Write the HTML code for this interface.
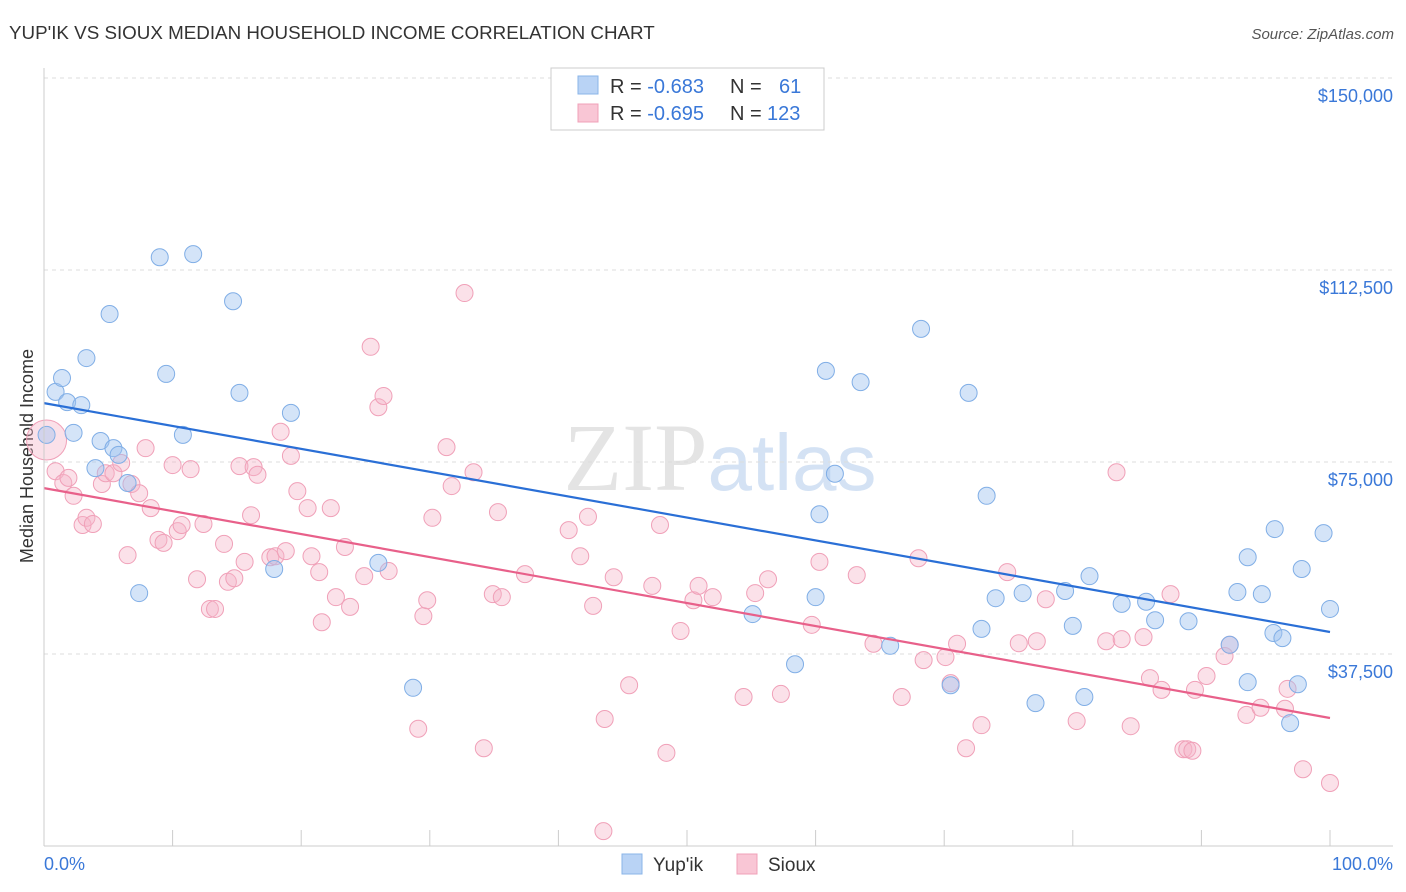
<!DOCTYPE html>
<html><head><meta charset="utf-8"><style>
body{margin:0;background:#fff;font-family:"Liberation Sans",sans-serif;}
svg{display:block}
</style></head><body>
<svg id="chart" width="1406" height="892">
<text x="9" y="39" font-size="18.8" fill="#333">YUP'IK VS SIOUX MEDIAN HOUSEHOLD INCOME CORRELATION CHART</text>
<text x="1394" y="39" font-size="15" fill="#555" font-style="italic" text-anchor="end">Source: ZipAtlas.com</text>
<text x="720" y="490" font-size="96" fill="#e4e4e4" text-anchor="middle" font-family="Liberation Serif, serif">ZIP<tspan fill="#d4e2f4" font-family="Liberation Sans, sans-serif" font-size="80">atlas</tspan></text>
<text transform="translate(33,456) rotate(-90)" font-size="18" fill="#333" text-anchor="middle">Median Household Income</text>
<g id="grid"></g><g id="pts"></g><g id="lines"></g>
<line x1="44" y1="68" x2="44" y2="846" stroke="#ccc"/>
<line x1="44" y1="846" x2="1393" y2="846" stroke="#ccc"/>
<text x="44" y="870" font-size="18" fill="#3a78d8">0.0%</text>
<text x="1393" y="870" font-size="18" fill="#3a78d8" text-anchor="end">100.0%</text>
<g>
<rect x="551" y="68" width="273" height="62" fill="#fff" stroke="#ccc"/>
<rect x="578" y="76" width="20" height="18" fill="#b9d3f5" stroke="#8ab4e8"/>
<rect x="578" y="104" width="20" height="18" fill="#f9c6d5" stroke="#f0a0b8"/>
<text x="610" y="93" font-size="20" fill="#333">R = <tspan fill="#3a78d8">-0.683</tspan><tspan x="730">N =</tspan><tspan x="779" fill="#3a78d8">61</tspan></text>
<text x="610" y="120" font-size="20" fill="#333">R = <tspan fill="#3a78d8">-0.695</tspan><tspan x="730">N =</tspan><tspan x="767" fill="#3a78d8">123</tspan></text>
</g>
<g>
<rect x="622" y="854" width="20" height="20" fill="#b9d3f5" stroke="#8ab4e8"/>
<text x="653" y="871" font-size="19" fill="#333">Yup'ik</text>
<rect x="737" y="854" width="20" height="20" fill="#f9c6d5" stroke="#f0a0b8"/>
<text x="768" y="871" font-size="19" fill="#333">Sioux</text>
</g>
</svg>
<script>
const yTicks=[37.5,75,112.5,150];
const yTickLabels=["$37,500","$75,000","$112,500","$150,000"];
const xTicks=[0,10,20,30,40,50,60,70,80,90,100];
const yupikX=[0.2,0.9,1.4,1.8,2.3,2.9,3.3,4.0,4.4,5.1,5.4,5.8,6.5,7.4,9.0,9.5,10.8,11.6,14.7,15.2,17.9,19.2,26.0,28.7,55.1,58.4,60.0,60.3,60.8,61.5,63.5,65.8,68.2,70.5,71.9,72.9,73.3,74.0,76.1,77.1,79.4,80.0,80.9,81.3,83.8,85.7,86.4,89.0,92.2,92.8,93.6,93.6,94.7,95.6,95.7,96.3,96.9,97.5,97.8,99.5,100];
const yupikY=[80.3,88.7,91.4,86.7,80.7,86.1,95.3,73.8,79.1,103.9,77.7,76.4,70.9,49.4,115.0,92.2,80.3,115.6,106.4,88.5,54.1,84.6,55.3,30.9,45.3,35.5,48.6,64.8,92.8,72.7,90.6,39.1,101.0,31.4,88.5,42.4,68.4,48.4,49.4,27.9,49.8,43.0,29.1,52.7,47.3,47.7,44.1,43.9,39.3,49.6,56.4,32.0,49.2,41.6,61.9,40.6,24.0,31.6,54.1,61.1,46.3];
const siouxX=[0.2,0.9,1.5,1.9,2.3,3.0,3.3,3.8,4.5,4.8,5.4,6.0,6.5,6.8,7.4,7.9,8.3,8.9,9.3,10.0,10.4,10.7,11.4,11.9,12.4,12.9,13.3,14.0,14.3,14.8,15.2,15.6,16.1,16.3,16.6,17.6,18.0,18.4,18.8,19.2,19.7,20.5,20.8,21.4,21.6,22.3,22.7,23.4,23.8,24.9,25.4,26.0,26.4,26.8,29.1,29.5,29.8,30.2,31.3,31.7,32.7,33.4,34.2,34.9,35.3,35.6,37.4,40.8,41.7,42.3,42.7,43.5,43.6,44.3,45.5,47.3,47.9,48.4,49.5,50.5,50.9,52.0,54.4,55.3,56.3,57.3,59.7,60.3,63.2,64.5,66.7,68.0,68.4,70.1,70.5,71.0,71.7,72.9,74.9,75.8,77.2,77.9,80.3,82.6,83.4,83.8,84.5,85.5,86.0,86.9,87.6,88.6,88.9,89.3,89.5,90.4,91.8,92.2,93.5,94.6,96.7,96.5,97.9,100];
const siouxY=[79.3,73.2,70.9,71.9,68.4,62.7,64.1,62.9,70.7,72.8,72.8,74.8,56.8,70.7,68.9,77.7,66.0,59.8,59.2,74.4,61.5,62.7,73.6,52.1,62.9,46.3,46.3,59.0,51.6,52.3,74.2,55.5,64.6,74.0,72.5,56.4,56.6,80.9,57.6,76.2,69.3,66.0,56.6,53.5,43.7,66.0,48.6,58.4,46.7,52.7,97.5,85.7,87.9,53.7,22.9,44.9,48.0,64.1,77.9,70.3,108.0,73.0,19.1,49.2,65.2,48.6,53.1,61.7,56.6,64.3,46.9,2.9,24.8,52.5,31.4,50.8,62.7,18.2,42.0,48.0,50.8,48.6,29.1,49.4,52.1,29.7,43.2,55.5,52.9,39.5,29.1,56.2,36.3,36.9,31.8,39.5,19.1,23.6,53.5,39.6,40.0,48.2,24.4,40.0,73.0,40.4,23.4,40.8,32.8,30.5,49.2,18.9,18.9,18.6,30.5,33.2,37.1,39.3,25.6,27.0,30.7,26.8,15.0,12.3];
const yupikTrend=[86.5,41.8];
const siouxTrend=[69.9,25.0];
const NS="http://www.w3.org/2000/svg";
const X=v=>44+v*12.86;
const Y=v=>846-v*192/37.5;
function mk(tag,attrs,parent){const e=document.createElementNS(NS,tag);for(const k in attrs)e.setAttribute(k,attrs[k]);parent.appendChild(e);return e;}
const grid=document.getElementById('grid');
yTicks.forEach((t,i)=>{
 const l=mk('line',{x1:44,x2:1393,y1:Y(t),y2:Y(t),stroke:'#ddd','stroke-dasharray':'4,4'},grid);
 
 
 const tx=mk('text',{x:1393,y:Y(t)+24,'font-size':18,fill:'#3a78d8','text-anchor':'end'},grid);
 tx.textContent=yTickLabels[i];
 
 
});
xTicks.forEach(t=>{
 const l=mk('line',{x1:X(t),x2:X(t),y1:830,y2:846,stroke:'#ccc'},grid);
 
 
});
const pts=document.getElementById('pts');
siouxX.forEach((x,i)=>{
 const c=mk('circle',{cx:X(x),cy:Y(siouxY[i]),r:i===0?20:8.5,fill:'rgba(246,180,200,0.4)',stroke:'#f0a0b8','stroke-width':1},pts);
 
 
});
yupikX.forEach((x,i)=>{
 const c=mk('circle',{cx:X(x),cy:Y(yupikY[i]),r:8.5,fill:'rgba(160,195,240,0.45)',stroke:'#80aee6','stroke-width':1},pts);
 
 
});
const lines=document.getElementById('lines');
const lb=mk('line',{x1:X(0),y1:Y(yupikTrend[0]),x2:X(100),y2:Y(yupikTrend[1]),stroke:'#2a6fd6','stroke-width':2.2},lines);


const lp=mk('line',{x1:X(0),y1:Y(siouxTrend[0]),x2:X(100),y2:Y(siouxTrend[1]),stroke:'#e8608a','stroke-width':2.2},lines);


</script>
</body></html>
